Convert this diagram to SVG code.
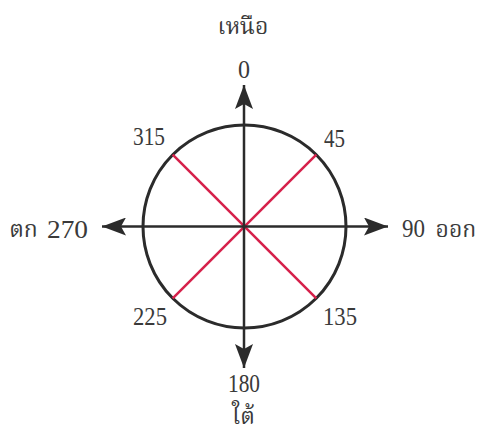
<svg xmlns="http://www.w3.org/2000/svg" width="481" height="435" viewBox="0 0 481 435">
<defs>
<marker id="ah" viewBox="0 0 24 18" refX="24" refY="9" markerWidth="24" markerHeight="18" markerUnits="userSpaceOnUse" orient="auto">
<path d="M0,0 L24,9 L0,18 L5,9 Z" fill="#2b2b2b"/>
</marker>
<style>
text{fill:#3a3a3a;text-anchor:middle}
.n{font-family:"Liberation Serif",serif;font-size:25px}
.t{font-family:"Noto Serif Thai","Noto Sans Thai","Liberation Serif",serif;font-size:23px}
.ax{stroke:#2b2b2b;stroke-width:2.5;fill:none}
.rd{stroke:#d6204a;stroke-width:2.5}
</style>
</defs>
<rect width="481" height="435" fill="#fff"/>
<g id="circle"><circle cx="244.5" cy="226.5" r="101.5" fill="none" stroke="#2b2b2b" stroke-width="3"/></g>
<g id="connectors">
<line class="rd" x1="172.7" y1="154.7" x2="316.3" y2="298.3"/>
<line class="rd" x1="316.3" y1="154.7" x2="172.7" y2="298.3"/>
<line class="ax" x1="244" y1="226.5" x2="244" y2="85" marker-end="url(#ah)"/>
<line class="ax" x1="244" y1="226.5" x2="244" y2="368" marker-end="url(#ah)"/>
<line class="ax" x1="244" y1="226.5" x2="102" y2="226.5" marker-end="url(#ah)"/>
<line class="ax" x1="244" y1="226.5" x2="388" y2="226.5" marker-end="url(#ah)"/>
</g>
<g id="labels">
<text class="t" x="243" y="34">เหนือ</text>
<text class="n" x="244" y="78" textLength="12" lengthAdjust="spacingAndGlyphs">0</text>
<text class="n" x="149" y="145" textLength="32" lengthAdjust="spacingAndGlyphs">315</text>
<text class="n" x="334.5" y="147" textLength="21" lengthAdjust="spacingAndGlyphs">45</text>
<text class="n" x="150" y="325" textLength="34" lengthAdjust="spacingAndGlyphs">225</text>
<text class="n" x="340" y="325" textLength="34" lengthAdjust="spacingAndGlyphs">135</text>
<text class="n" x="244" y="392" textLength="32" lengthAdjust="spacingAndGlyphs">180</text>
<text class="t" x="243.5" y="424">ใต้</text>
<text class="t" x="23.5" y="237">ตก</text>
<text class="n" x="67.5" y="238" textLength="41" lengthAdjust="spacingAndGlyphs">270</text>
<text class="n" x="413.5" y="237" textLength="23" lengthAdjust="spacingAndGlyphs">90</text>
<text class="t" x="456" y="237">ออก</text>
</g>
</svg>
